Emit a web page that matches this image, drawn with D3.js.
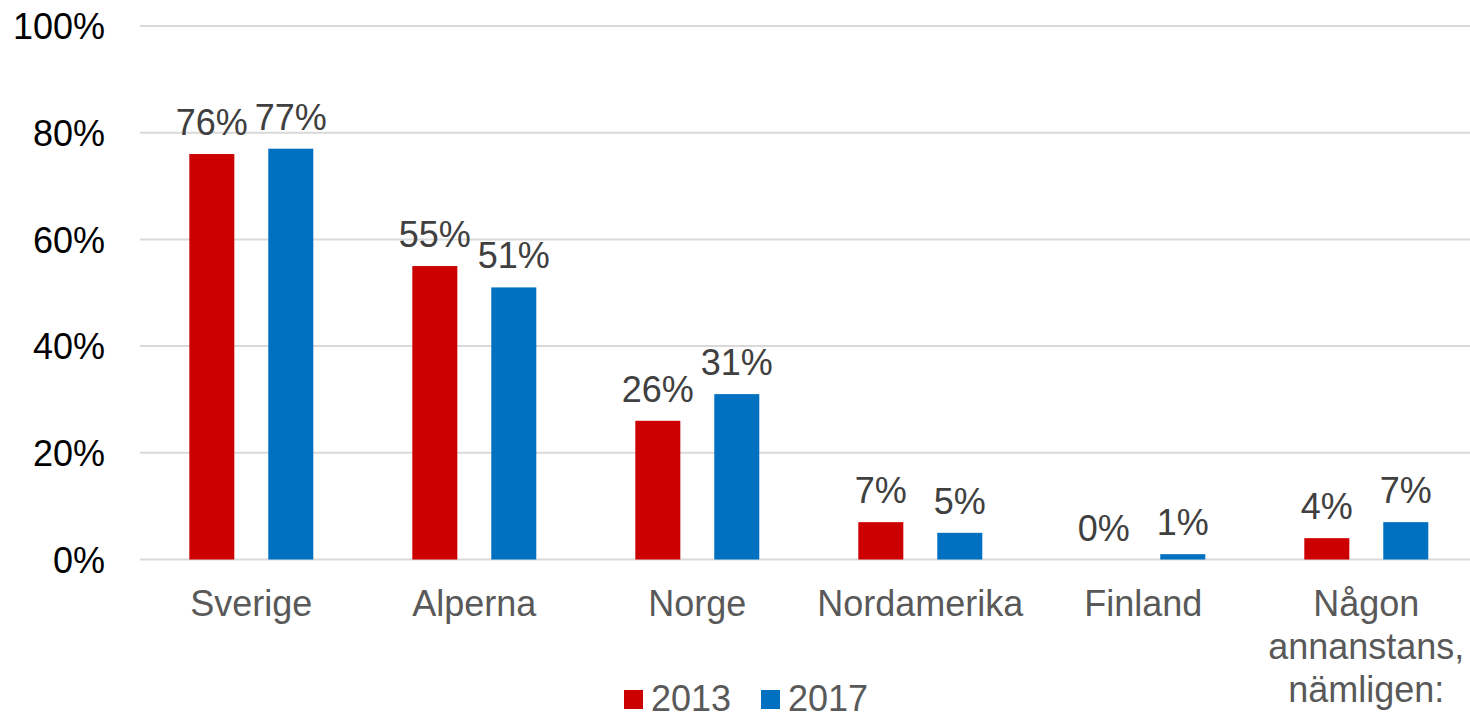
<!DOCTYPE html>
<html>
<head>
<meta charset="utf-8">
<script src="https://cdn.jsdelivr.net/npm/d3@7"></script>
<style>
  body { margin: 0; background: #fff; }
  svg { display: block; font-family: "Liberation Sans", Arial, sans-serif; }
</style>
</head>
<body>
<svg></svg>
<script>
const categories = [
    ["Sverige"],
    ["Alperna"],
    ["Norge"],
    ["Nordamerika"],
    ["Finland"],
    ["Någon", "annanstans,", "nämligen:"]
]
const seriesNames = ["2013", "2017"]
const values2013 = [76, 55, 26, 7, 0, 4]
const values2017 = [77, 51, 31, 5, 1, 7]
const yTicks = [0, 20, 40, 60, 80, 100]

const colors = ["#CC0000", "#0070C0"]

let width = 1470
let height = 717
let plotLeft = 139.8
let plotRight = 1477.8   // the last band runs a little past the window edge
let plotTop = 26
let plotBottom = 559.5

let svg = d3.select("svg")
    .attr("width", width)
    .attr("height", height)

const rows = categories.map((c, i) => ({
    key: c.join(" "),
    lines: c,
    vals: [values2013[i], values2017[i]]
}))

let xScale = d3.scaleBand()
    .domain(rows.map(d => d.key))
    .range([plotLeft, plotRight])
    .padding(0)

let xInner = d3.scaleBand()
    .domain(seriesNames)
    .range([0, xScale.bandwidth()])
    .paddingInner(0.43)
    .paddingOuter(0.627)

let yScale = d3.scaleLinear()
    .domain([0, 100])
    .range([plotBottom, plotTop])

// gridlines
svg.append("g")
    .selectAll("line")
    .data(yTicks)
    .enter()
    .append("line")
    .attr("x1", plotLeft)
    .attr("x2", width)
    .attr("y1", d => yScale(d))
    .attr("y2", d => yScale(d))
    .attr("stroke", "#d9d9d9")
    .attr("stroke-width", 2)

// y tick labels
let yAxis = d3.axisLeft(yScale)
    .tickValues(yTicks)
    .tickFormat(d => d + "%")
    .tickSize(0)
    .tickPadding(0)

let yg = svg.append("g")
    .attr("transform", "translate(105, 0)")
    .call(yAxis)
yg.select(".domain").remove()
yg.selectAll("text")
    .attr("font-size", 36)
    .attr("font-family", "Liberation Sans, Arial, sans-serif")
    .attr("fill", "#000")
    .attr("dy", "0.35em")

// bars
let groups = svg.append("g")
    .selectAll("g")
    .data(rows)
    .enter()
    .append("g")
    .attr("transform", d => "translate(" + xScale(d.key) + ",0)")

groups.selectAll("rect")
    .data(d => d.vals.map((v, i) => ({ s: seriesNames[i], v: v, i: i })))
    .enter()
    .append("rect")
    .attr("x", d => xInner(d.s))
    .attr("width", xInner.bandwidth())
    .attr("y", d => yScale(d.v))
    .attr("height", d => plotBottom - yScale(d.v))
    .attr("fill", d => colors[d.i])

groups.selectAll("text")
    .data(d => d.vals.map((v, i) => ({ s: seriesNames[i], v: v })))
    .enter()
    .append("text")
    .attr("x", d => xInner(d.s) + xInner.bandwidth() / 2)
    .attr("y", d => yScale(d.v) - 19)
    .attr("text-anchor", "middle")
    .attr("font-size", 36)
    .attr("fill", "#404040")
    .text(d => d.v + "%")

// category labels
let catLabels = svg.append("g")
    .selectAll("text")
    .data(rows)
    .enter()
    .append("text")
    .attr("text-anchor", "middle")
    .attr("font-size", 36)
    .attr("fill", "#595959")

catLabels.selectAll("tspan")
    .data(d => d.lines.map(l => ({ l: l, key: d.key })))
    .enter()
    .append("tspan")
    .attr("x", d => xScale(d.key) + xScale.bandwidth() / 2)
    .attr("y", (d, i) => 616 + i * 43)
    .text(d => d.l)

// legend
const legendX = [624, 761]
let legend = svg.append("g")
    .selectAll("g")
    .data(seriesNames)
    .enter()
    .append("g")
    .attr("transform", (d, i) => "translate(" + legendX[i] + ",690)")

legend.append("rect")
    .attr("width", 19)
    .attr("height", 19)
    .attr("fill", (d, i) => colors[i])

legend.append("text")
    .attr("x", 27)
    .attr("y", 21)
    .attr("font-size", 36)
    .attr("fill", "#595959")
    .text(d => d)
</script>
</body>
</html>
